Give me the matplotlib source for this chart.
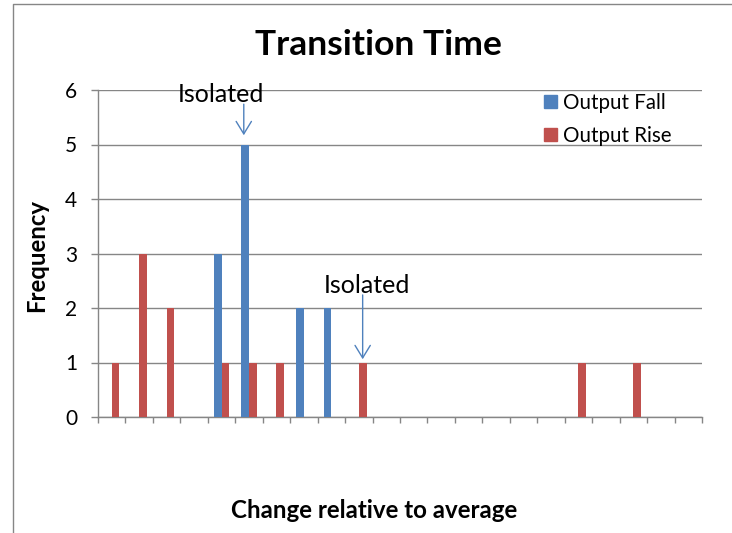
import matplotlib
matplotlib.use("Agg")
import matplotlib.pyplot as plt
import numpy as np
from matplotlib.lines import Line2D
from matplotlib.patches import Patch

# Histogram bins (22 bins of change relative to the average, unlabelled)
bins = list(range(22))
output_fall = [0, 0, 0, 0, 3, 5, 0, 2, 2, 0, 0, 0, 0, 0, 0, 0, 0, 0, 0, 0, 0, 0]
output_rise = [1, 3, 2, 0, 1, 1, 1, 0, 0, 1, 0, 0, 0, 0, 0, 0, 0, 1, 0, 1, 0, 0]
series_names = ["Output Fall", "Output Rise"]
y_ticks = [0, 1, 2, 3, 4, 5, 6]

FALL_C = "#4F81BD"
RISE_C = "#C0504D"
GRID_C = "#868686"
FONT = "Lato"

W, H = 732, 533
fig = plt.figure(figsize=(W / 100, H / 100), dpi=100)
fig.patch.set_facecolor("white")

# chart-area border (left and top edges visible)
fig.add_artist(Line2D([13 / W, 13 / W, 1.0], [0.0, 1 - 4 / H, 1 - 4 / H],
                      transform=fig.transFigure, color=GRID_C, lw=1.0))

ax = fig.add_axes([98 / W, 1 - 417 / H, (702 - 98) / W, (417 - 90) / H])

x = np.array(bins, dtype=float)
bw = 0.28
ax.bar(x - bw / 2, output_fall, width=bw, color=FALL_C, zorder=3, label=series_names[0])
ax.bar(x + bw / 2, output_rise, width=bw, color=RISE_C, zorder=3, label=series_names[1])

ax.set_xlim(-0.5, len(bins) - 0.5)
ax.set_ylim(0, 6)
ax.set_yticks(y_ticks)
ax.set_yticklabels([str(v) for v in y_ticks], fontsize=15, fontfamily=FONT)
ax.set_xticks(np.arange(-0.5, len(bins), 1.0))
ax.set_xticklabels([])
ax.yaxis.grid(True, color=GRID_C, lw=1.0, zorder=0)
ax.set_axisbelow(True)

for s in ["top", "right"]:
    ax.spines[s].set_visible(False)
for s in ["left", "bottom"]:
    ax.spines[s].set_color(GRID_C)
    ax.spines[s].set_linewidth(1.0)
ax.tick_params(axis="y", length=5, width=1.0, color=GRID_C, pad=10)
ax.tick_params(axis="x", length=4, width=1.0, color=GRID_C)

# titles
fig.text(378 / W, 1 - 45 / H, "Transition Time", ha="center", va="center",
         fontsize=25.5, fontweight="bold", fontfamily=FONT)
fig.text(37 / W, 1 - 255 / H, "Frequency", ha="center", va="center", rotation=90,
         fontsize=17.2, fontweight="bold", fontfamily=FONT)
fig.text(374 / W, 1 - 511 / H, "Change relative to average", ha="center", va="center",
         fontsize=17.4, fontweight="bold", fontfamily=FONT)

# legend
handles = [Patch(color=FALL_C), Patch(color=RISE_C)]
ax.legend(handles, series_names, loc="upper left", bbox_to_anchor=(544 / W, 1 - 93 / H),
          bbox_transform=fig.transFigure, frameon=False, handlelength=0.63,
          handleheight=0.63, handletextpad=0.29, labelspacing=0.62, borderpad=0,
          borderaxespad=0, prop={"family": FONT, "size": 14.8})

# "Isolated" call-outs
arrow = dict(arrowstyle="->,head_length=0.9,head_width=0.55", color=FALL_C, lw=1.0,
             shrinkA=0, shrinkB=0)
ax.annotate("", xy=(5 - bw / 2 - 0.05, output_fall[5] + 0.17), xytext=(5 - bw / 2 - 0.05, 5.74),
            arrowprops=arrow)
ax.text(3.97, 5.92, "Isolated", ha="center", va="center", fontsize=18, fontfamily=FONT)
ax.annotate("", xy=(9 + bw / 2, output_rise[9] + 0.06), xytext=(9 + bw / 2, 2.24),
            arrowprops=arrow)
ax.text(9.3, 2.41, "Isolated", ha="center", va="center", fontsize=18, fontfamily=FONT)

fig.savefig("out.png", dpi=100)
